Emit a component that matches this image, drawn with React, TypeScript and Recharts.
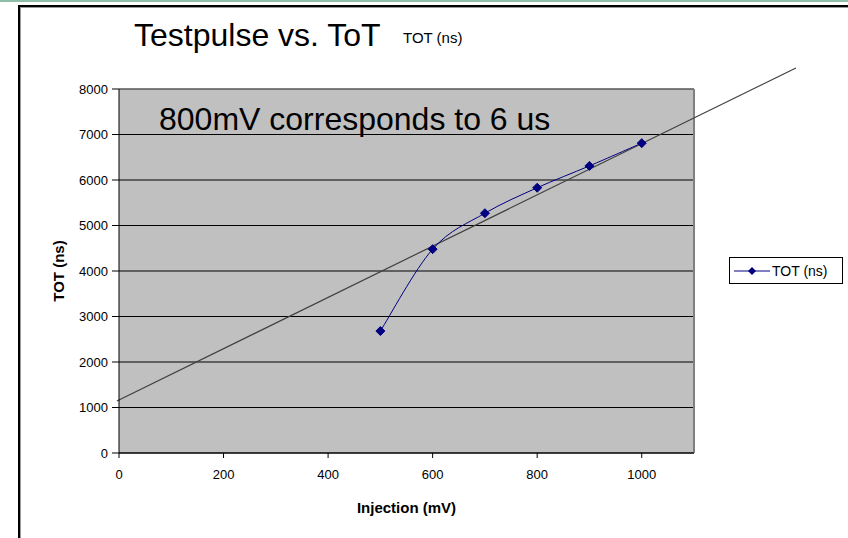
import React from 'react';
import {
  ComposedChart, Line, XAxis, YAxis, CartesianGrid, ReferenceLine,
} from 'recharts';

const injection = [500, 600, 700, 800, 900, 1000];
const totNs = [2680, 4480, 5270, 5830, 6310, 6810];
const xTicks = [0, 200, 400, 600, 800, 1000];
const yTicks = [0, 1000, 2000, 3000, 4000, 5000, 6000, 7000, 8000];
const trendX = [-4, 1295];
const trendY = [1143, 8462];

const data = injection.map((x, i) => ({ x, tot: totNs[i] }));
const FONT = '"Liberation Sans", Arial, sans-serif';

// Catmull-Rom style smoothing (similar to Excel's smoothed line)
const smoothCurve: any = (context: any) => {
  let pts: number[][] = [];
  return {
    areaStart() {},
    areaEnd() {},
    lineStart() { pts = []; },
    lineEnd() {
      if (!pts.length) return;
      context.moveTo(pts[0][0], pts[0][1]);
      for (let i = 0; i < pts.length - 1; i++) {
        const p0 = pts[i - 1] || pts[i];
        const p1 = pts[i];
        const p2 = pts[i + 1];
        const p3 = pts[i + 2] || pts[i + 1];
        const c1x = p1[0] + (p2[0] - p0[0]) / 6;
        const c1y = p1[1] + (p2[1] - p0[1]) / 6;
        const c2x = p2[0] - (p3[0] - p1[0]) / 6;
        const c2y = p2[1] - (p3[1] - p1[1]) / 6;
        context.bezierCurveTo(c1x, c1y, c2x, c2y, p2[0], p2[1]);
      }
    },
    point(x: number, y: number) { pts.push([+x, +y]); },
  };
};

const Diamond = (props: any) => {
  const { cx, cy } = props;
  if (cx == null || cy == null) return null;
  const r = 4.5;
  return (
    <path
      d={`M${cx},${cy - r}L${cx + r},${cy}L${cx},${cy + r}L${cx - r},${cy}Z`}
      fill="#000080"
      stroke="#000080"
    />
  );
};

export default function App() {
  return (
    <div style={{ position: 'absolute', left: 0, top: 0, width: 848, height: 538, background: '#fff', overflow: 'hidden' }}>
      <div style={{ position: 'absolute', left: 0, top: 0, width: 848, height: 2, background: '#8dbfaa' }} />
      <div
        style={{
          position: 'absolute', left: 18, top: 5, width: 840, height: 540,
          borderLeft: '2px solid #000', borderTop: '2px solid #000',
          boxShadow: 'inset 1px 1px 0 #999',
        }}
      />
      <ComposedChart
        width={848}
        height={538}
        data={data}
        margin={{ top: 89, right: 154, bottom: 25, left: 0 }}
        style={{ position: 'absolute', left: 0, top: 0 }}
      >
        <CartesianGrid vertical={false} stroke="#000" fill="#c0c0c0" fillOpacity={1} />
        <XAxis
          dataKey="x"
          type="number"
          domain={[0, 1100]}
          ticks={xTicks}
          interval={0}
          height={60}
          allowDataOverflow
          axisLine={{ stroke: '#000' }}
          tickLine={{ stroke: '#000' }}
          tickSize={5}
          tickMargin={12}
          tick={{ fill: '#000', fontSize: 13, fontFamily: FONT }}
          label={{ value: 'Injection (mV)', position: 'insideBottom', offset: 0, fill: '#000', fontSize: 15, fontWeight: 'bold', fontFamily: FONT }}
        />
        <YAxis
          type="number"
          domain={[0, 8000]}
          ticks={yTicks}
          interval={0}
          width={119}
          axisLine={{ stroke: '#000' }}
          tickLine={{ stroke: '#000' }}
          tickSize={7}
          tickMargin={4}
          tick={{ fill: '#000', fontSize: 13, fontFamily: FONT }}
          label={{ value: 'TOT (ns)', angle: -90, position: 'insideLeft', offset: 59, fill: '#000', fontSize: 15, fontWeight: 'bold', fontFamily: FONT, style: { textAnchor: 'middle' } }}
        />
        <ReferenceLine x={1100} stroke="#808080" strokeWidth={2} />
        <ReferenceLine y={8000} stroke="#808080" />
        <ReferenceLine
          segment={[{ x: trendX[0], y: trendY[0] }, { x: trendX[1], y: trendY[1] }]}
          stroke="#404040"
          strokeWidth={1.2}
          ifOverflow="visible"
        />
        <Line
          type={smoothCurve}
          dataKey="tot"
          name="TOT (ns)"
          stroke="#000080"
          strokeWidth={1}
          dot={<Diamond />}
          activeDot={false}
          isAnimationActive={false}
        />
      </ComposedChart>
      <div
        style={{
          position: 'absolute', left: 729, top: 257, width: 112, height: 25,
          border: '1px solid #000', background: '#fff',
          display: 'flex', alignItems: 'center',
          fontFamily: FONT, fontSize: 14, color: '#000', whiteSpace: 'nowrap',
        }}
      >
        <svg width={36} height={10} style={{ marginLeft: 4, marginRight: 2 }}>
          <line x1={0} y1={5} x2={36} y2={5} stroke="#000080" strokeWidth={1} />
          <path d="M18,1L22,5L18,9L14,5Z" fill="#000080" />
        </svg>
        <span>TOT (ns)</span>
      </div>
      <div style={{ position: 'absolute', left: 134, top: 17, fontFamily: FONT, fontSize: 32, color: '#000', whiteSpace: 'nowrap' }}>
        Testpulse vs. ToT
      </div>
      <div style={{ position: 'absolute', left: 403, top: 29, fontFamily: FONT, fontSize: 15, color: '#000', whiteSpace: 'nowrap' }}>
        TOT (ns)
      </div>
      <div style={{ position: 'absolute', left: 159, top: 101, fontFamily: FONT, fontSize: 32, color: '#000', whiteSpace: 'nowrap' }}>
        800mV corresponds to 6 us
      </div>
    </div>
  );
}
